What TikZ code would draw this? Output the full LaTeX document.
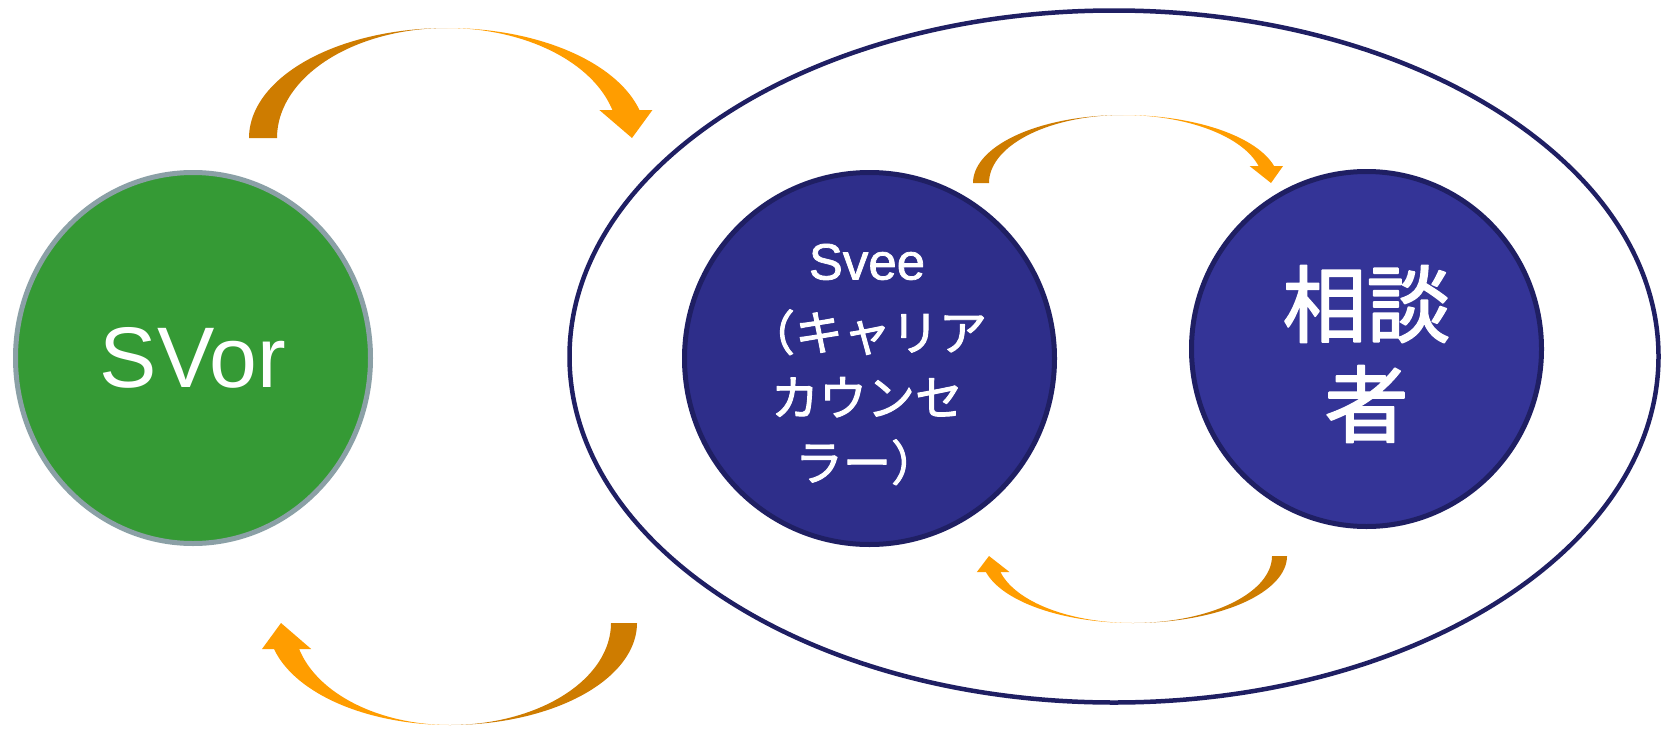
\documentclass[tikz,border=0pt]{standalone}
\usepackage{fontspec}
\setmainfont{Liberation Sans}
\newfontfamily\latinfont{Liberation Sans}
\newfontfamily\latinheavy[FakeBold=1.5]{Liberation Sans}
\newfontfamily\jpfont[FakeBold=2]{Noto Sans CJK JP}
\usetikzlibrary{shapes.geometric}

\definecolor{tailorange}{HTML}{CE7C00}
\definecolor{headorange}{HTML}{FF9D00}
\definecolor{greenfill}{HTML}{359A35}
\definecolor{greyrim}{HTML}{8BA0A6}
\definecolor{navyfill}{HTML}{2E2E8A}
\definecolor{bluefill}{HTML}{343497}
\definecolor{navyrim}{HTML}{1F1F63}

% Curved block arrow arching over its centre: tail on the left, head on the right.
% #1 cx, #2 cy (base line), #3 vertical radius, #4 outer x of tail,
% #5 band width, #6 x of tip, #7 head height, #8 head overhang
\newcommand\arrowover[8]{%
  \pgfmathsetmacro\arOA{#1-#4}%
  \pgfmathsetmacro\arIA{#1-#4-#5}%
  \pgfmathsetmacro\arOB{#6+#5/2-#1}%
  \pgfmathsetmacro\arIB{#6-#5/2-#1}%
  \pgfmathsetmacro\arTh{asin(#7/#3)}%
  \pgfmathsetmacro\arEnd{360-\arTh}%
  \fill[tailorange] plot[domain=180:270,samples=50] ({#1+\arOA*cos(\x)},{#2+#3*sin(\x)})
    -- plot[domain=270:180,samples=50] ({#1+\arIA*cos(\x)},{#2+#3*sin(\x)}) -- cycle;
  \fill[headorange] plot[domain=270:\arEnd,samples=50] ({#1+\arOB*cos(\x)},{#2+#3*sin(\x)})
    -- ++(#8,0) -- (#6,#2) -- ({#1+\arIB*cos(\arTh)-#8},{#2-#7})
    -- plot[domain=\arEnd:270,samples=50] ({#1+\arIB*cos(\x)},{#2+#3*sin(\x)}) -- cycle;
}
% Curved block arrow sagging under its centre: tail on the right, head on the left.
\newcommand\arrowunder[8]{%
  \pgfmathsetmacro\arOA{#4-#1}%
  \pgfmathsetmacro\arIA{#4-#5-#1}%
  \pgfmathsetmacro\arOB{#1-#6+#5/2}%
  \pgfmathsetmacro\arIB{#1-#6-#5/2}%
  \pgfmathsetmacro\arTh{asin(#7/#3)}%
  \pgfmathsetmacro\arEnd{180-\arTh}%
  \fill[tailorange] plot[domain=0:90,samples=50] ({#1+\arOA*cos(\x)},{#2+#3*sin(\x)})
    -- plot[domain=90:0,samples=50] ({#1+\arIA*cos(\x)},{#2+#3*sin(\x)}) -- cycle;
  \fill[headorange] plot[domain=90:\arEnd,samples=50] ({#1+\arOB*cos(\x)},{#2+#3*sin(\x)})
    -- ++(-#8,0) -- (#6,#2) -- ({#1-\arIB*cos(\arTh)+#8},{#2+#7})
    -- plot[domain=\arEnd:90,samples=50] ({#1+\arIB*cos(\x)},{#2+#3*sin(\x)}) -- cycle;
}

\begin{document}
\begin{tikzpicture}[x=1pt,y=-1pt, line join=round,
  disc/.style={ellipse, line width=5pt, inner sep=0pt},
  caption/.style={text=white, align=center, inner sep=0pt}]
\fill[white] (0,0) rectangle (1669,728);
\useasboundingbox (0,0) rectangle (1669,728);

% enclosing field
\coordinate (field) at (1114,356.5);
\draw[navyrim, line width=4.5pt] (field) ellipse [x radius=544.5pt, y radius=346pt];

% participants
\node[disc, fill=greenfill, draw=greyrim, minimum width=355pt, minimum height=371pt]
  (svor) at (193,358) {};
\node[disc, fill=navyfill, draw=navyrim, minimum width=370pt, minimum height=372pt]
  (svee) at (869.5,358.5) {};
\node[disc, fill=bluefill, draw=navyrim, minimum width=350pt, minimum height=355pt]
  (client) at (1366.5,349) {};

% their names
\node[caption, font=\latinfont\fontsize{86}{100}\selectfont] (svorname) at (193,358) {SVor};
\node[caption, font=\fontsize{48}{65}\selectfont] (sveename) at (867,364.5)
  {{\latinheavy\fontsize{51}{65}\selectfont Svee}\\[6pt]{\jpfont （キャリア}\\{\jpfont カウンセ}\\{\jpfont ラー）}};
\node[caption, font=\jpfont\fontsize{84}{100}\selectfont] (clientname) at (1366.5,354) {相談\\者};

% exchange arrows
\arrowover{447}{138}{110}{249}{28}{632}{28}{13}
\arrowunder{450}{623}{102}{637}{26}{281}{26}{12}
\arrowover{1123}{183}{68}{973}{16}{1271}{17}{9}
\arrowunder{1133}{556}{67}{1287}{15}{989}{16}{9}
\end{tikzpicture}
\end{document}
